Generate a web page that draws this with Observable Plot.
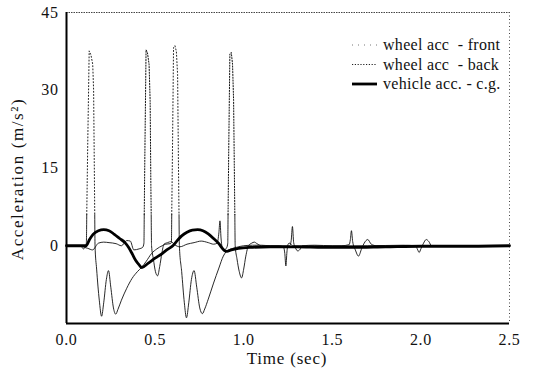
<!DOCTYPE html>
<html>
<head>
<meta charset="utf-8">
<script src="https://cdn.jsdelivr.net/npm/d3@7"></script>
<script src="https://cdn.jsdelivr.net/npm/@observablehq/plot@0.6"></script>
<style>
  html, body { margin: 0; padding: 0; background: #fff; }
  #chart { width: 547px; height: 372px; }
  #chart svg { display: block; }
</style>
</head>
<body>
<div id="chart"></div>
<script>
// Wheel acceleration, front wheel (m/s²) against time (s)
const timeFront = [0, 0.05, 0.08, 0.095, 0.105, 0.112, 0.12, 0.128, 0.138, 0.148, 0.153, 0.157, 0.161, 0.17, 0.185, 0.198, 0.21, 0.225, 0.237, 0.25, 0.265, 0.278, 0.29, 0.31, 0.34, 0.37, 0.40, 0.423, 0.45, 0.48, 0.51, 0.54, 0.56, 0.585, 0.592, 0.598, 0.604, 0.612, 0.62, 0.627, 0.632, 0.637, 0.65, 0.665, 0.677, 0.69, 0.705, 0.72, 0.735, 0.752, 0.767, 0.78, 0.80, 0.83, 0.86, 0.885, 0.90, 0.93, 0.96, 1.0, 1.05, 1.1, 1.15, 1.2, 1.225, 1.232, 1.238, 1.244, 1.25, 1.26, 1.275, 1.35, 1.45, 1.55, 1.595, 1.602, 1.608, 1.615, 1.63, 1.648, 1.665, 1.68, 1.70, 1.72, 1.75, 1.9, 2.1, 2.5];
const accFront = [0, 0, 0, -0.6, -0.3, 0.5, 20, 37.6, 36.8, 35, 30, 15, 0, -4.5, -10.5, -13.6, -11, -6.5, -4.8, -8, -12, -13.2, -12.3, -10.5, -8.2, -6.3, -5, -4.2, -3, -1.5, -0.6, 0, 0.3, 0.4, 0.6, 18, 38.2, 38.6, 37.5, 33, 15, 0, -5, -11, -13.9, -11, -6.5, -4.8, -8, -12, -13.1, -12.2, -10.3, -7.2, -4.3, -2, -1.2, -0.6, -0.3, 0, 0.1, 0.1, 0, 0, -0.3, -1.5, -3.9, -1.2, 0.3, 0.5, 0, 0, 0, 0, 0.2, 1.2, 2.9, 0.8, -0.8, -2, -0.6, 0.5, 1.2, 0.3, 0, 0, 0, 0];

// Wheel acceleration, back wheel (m/s²)
const timeBack = [0, 0.08, 0.10, 0.12, 0.147, 0.18, 0.21, 0.24, 0.28, 0.31, 0.34, 0.36, 0.38, 0.41, 0.43, 0.437, 0.443, 0.449, 0.457, 0.466, 0.472, 0.476, 0.48, 0.49, 0.502, 0.514, 0.526, 0.538, 0.55, 0.57, 0.59, 0.61, 0.64, 0.68, 0.72, 0.76, 0.80, 0.83, 0.85, 0.86, 0.866, 0.872, 0.88, 0.89, 0.905, 0.91, 0.916, 0.922, 0.93, 0.937, 0.943, 0.948, 0.952, 0.962, 0.975, 0.988, 1.0, 1.012, 1.027, 1.045, 1.06, 1.075, 1.1, 1.2, 1.26, 1.268, 1.275, 1.282, 1.292, 1.305, 1.318, 1.33, 1.4, 1.5, 1.7, 1.9, 1.97, 1.982, 1.99, 2.0, 2.015, 2.03, 2.045, 2.06, 2.2, 2.5];
const accBack = [0, 0, -0.3, -0.5, -0.8, 0.5, 0.7, 0.6, 0.4, 0, 1.0, 0.9, -0.8, -0.6, -0.3, 0.5, 20, 37.8, 37.2, 35, 28, 12, 0, -2.5, -5, -5.8, -4, -1.5, 0.3, 0.6, 0.8, 0.2, -0.2, 0.3, 0.6, 0.9, 0.6, 0.3, 0.5, 2.5, 4.8, 1.5, -0.5, -0.8, -0.3, 0.5, 20, 37, 37.3, 35, 28, 12, 0, -2.5, -5, -6.2, -4.5, -2, 0, 0.5, 0.7, 0.4, 0, 0, 0, 1, 3.7, 0.6, -0.4, -1, -0.7, 0, 0.1, 0, 0, 0.1, 0, -0.8, -1.3, -0.6, 0.5, 1.2, 0.8, 0, 0, 0];

// Vehicle acceleration at the centre of gravity (m/s²)
const timeCg = [0, 0.06, 0.11, 0.13, 0.15, 0.18, 0.21, 0.24, 0.27, 0.30, 0.33, 0.35, 0.37, 0.39, 0.41, 0.425, 0.46, 0.50, 0.54, 0.57, 0.60, 0.62, 0.65, 0.68, 0.71, 0.74, 0.77, 0.80, 0.83, 0.86, 0.875, 0.89, 0.905, 0.93, 0.97, 1.05, 1.15, 1.3, 1.45, 1.6, 1.8, 2.0, 2.2, 2.5];
const accCg = [0, 0, 0, 1.2, 2.2, 2.9, 3.1, 2.9, 2.2, 1.4, 0.6, -0.3, -1.5, -2.8, -3.7, -4.2, -3.4, -2.4, -1.5, -0.7, 0, 0.8, 1.9, 2.6, 3.0, 3.1, 2.9, 2.3, 1.4, 0.4, -0.3, -0.9, -1.1, -0.8, -0.5, -0.3, -0.2, -0.2, -0.3, -0.3, -0.2, -0.1, -0.1, 0];

// Axis ticks and labels
const xTicks = [0, 0.5, 1.0, 1.5, 2.0, 2.5];
const yTicks = [0, 15, 30, 45];
const seriesNames = ["wheel acc  - front", "wheel acc  - back", "vehicle acc. - c.g."];

// Split a series into runs above / below a level so the tall spikes
// can be stroked dotted while the rest stays a thin solid trace.
function split(ts, vs, level) {
  const out = [];
  let seg = 0;
  let kind = vs[0] > level ? "spike" : "base";
  out.push({t: ts[0], a: vs[0], seg, kind});
  for (let i = 1; i < ts.length; i++) {
    const k = vs[i] > level ? "spike" : "base";
    if (k !== kind) {
      const f = (level - vs[i - 1]) / (vs[i] - vs[i - 1]);
      const tc = ts[i - 1] + f * (ts[i] - ts[i - 1]);
      out.push({t: tc, a: level, seg, kind});
      seg++;
      kind = k;
      out.push({t: tc, a: level, seg, kind});
    }
    out.push({t: ts[i], a: vs[i], seg, kind});
  }
  return out;
}

const front = split(timeFront, accFront, 6);
const back = split(timeBack, accBack, 6);
const cg = timeCg.map((t, i) => ({t, a: accCg[i]}));

const serif = "'Liberation Serif', 'Times New Roman', Times, serif";

const chart = Plot.plot({
  width: 547,
  height: 372,
  marginLeft: 66,
  marginRight: 38,
  marginTop: 12,
  marginBottom: 49,
  style: {fontFamily: serif, fontSize: "16px", background: "#fff", color: "#111", letterSpacing: "0.6px"},
  x: {domain: [0, 2.5], ticks: xTicks, tickFormat: d3.format(".1f"), tickSize: 0, tickPadding: 10, label: null},
  y: {domain: [-15, 45], ticks: yTicks, tickSize: 0, tickPadding: 8, label: null},
  marks: [
    // plot frame: solid left/bottom, faint dotted top/right
    Plot.ruleY([45], {stroke: "#444", strokeWidth: 1, strokeDasharray: "1.5,1"}),
    Plot.ruleX([2.5], {stroke: "#444", strokeWidth: 1, strokeDasharray: "1,2.5"}),
    // wheel traces
    Plot.line(front.filter(d => d.kind === "base"), {x: "t", y: "a", z: "seg", stroke: "#111", strokeWidth: 0.9, curve: "monotone-x"}),
    Plot.line(front.filter(d => d.kind === "spike"), {x: "t", y: "a", z: "seg", stroke: "#222", strokeWidth: 1, strokeDasharray: "1,2.2"}),
    Plot.line(back.filter(d => d.kind === "base"), {x: "t", y: "a", z: "seg", stroke: "#111", strokeWidth: 0.9, curve: "monotone-x"}),
    Plot.line(back.filter(d => d.kind === "spike"), {x: "t", y: "a", z: "seg", stroke: "#111", strokeWidth: 1, strokeDasharray: "1.2,1.6"}),
    // vehicle body acceleration
    Plot.line(cg, {x: "t", y: "a", stroke: "#000", strokeWidth: 2.8, curve: "monotone-x"}),
    Plot.ruleX([0], {stroke: "#000", strokeWidth: 2}),
    Plot.ruleY([-15], {stroke: "#000", strokeWidth: 2})
  ]
});

document.getElementById("chart").appendChild(chart);

// Axis titles and in-frame legend
const svg = d3.select(chart);
svg.append("text")
  .attr("transform", "translate(23,179) rotate(-90)")
  .attr("text-anchor", "middle")
  .attr("font-family", serif)
  .attr("font-size", 17)
  .attr("letter-spacing", "1.6px")
  .attr("fill", "#111")
  .text("Acceleration (m/s²)");
svg.append("text")
  .attr("x", 287)
  .attr("y", 364)
  .attr("text-anchor", "middle")
  .attr("font-family", serif)
  .attr("font-size", 17)
  .attr("letter-spacing", "0.8px")
  .attr("fill", "#111")
  .text("Time (sec)");

const legendStyles = [
  {stroke: "#777", width: 1, dash: "1,5"},
  {stroke: "#222", width: 1, dash: "1.2,1.6"},
  {stroke: "#000", width: 2.8, dash: null}
];
const legend = svg.append("g")
  .attr("font-family", serif)
  .attr("font-size", 16)
  .attr("letter-spacing", "0.3px")
  .attr("text-anchor", "start")
  .attr("fill", "#111");
seriesNames.forEach((name, i) => {
  const y = 45 + i * 19.5;
  const s = legendStyles[i];
  const ln = legend.append("line")
    .attr("x1", 352).attr("x2", 377).attr("y1", y).attr("y2", y)
    .attr("stroke", s.stroke).attr("stroke-width", s.width);
  if (s.dash) ln.attr("stroke-dasharray", s.dash);
  legend.append("text").attr("x", 383).attr("y", y + 5).text(name);
});
</script>
</body>
</html>
